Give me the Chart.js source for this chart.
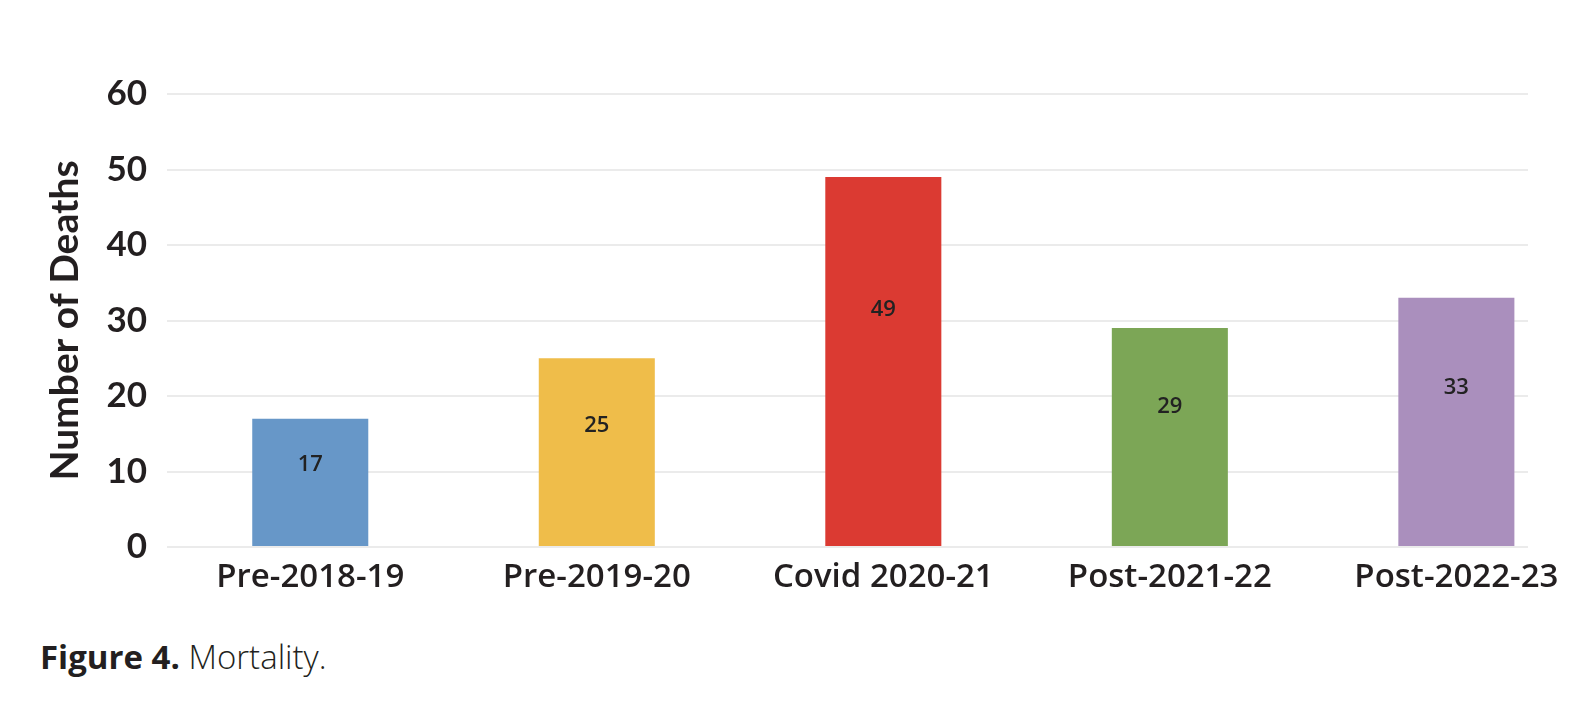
<!DOCTYPE html>
<html lang="en">
<head>
<meta charset="UTF-8">
<title>Figure 4. Mortality</title>
<script src="https://cdn.jsdelivr.net/npm/chart.js"></script>
<style>
  html, body { margin: 0; padding: 0; background: #fff; }
  body { width: 1572px; height: 720px; position: relative; overflow: hidden; }
  #wrap { position: absolute; left: 0; top: 0; width: 1572px; height: 600px; }
  .caption {
    position: absolute; left: 40px; top: 634px;
    font-family: 'Open Sans', sans-serif; font-size: 33px; color: #231f20;
  }
  .caption b { font-weight: 700; }
  .caption span { font-weight: 300; }
</style>
</head>
<body>
<div id="wrap"><canvas id="chart"></canvas></div>
<div class="caption"><b>Figure 4.</b> <span>Mortality.</span></div>

<script>
const categories = ['Pre-2018-19', 'Pre-2019-20', 'Covid 2020-21', 'Post-2021-22', 'Post-2022-23'];
const deaths = [17, 25, 49, 29, 33];
const barColors = ['#6797c8', '#efbd4a', '#db3a32', '#7ca656', '#aa8fbd'];
const yTicks = [0, 10, 20, 30, 40, 50, 60];

// value labels sit about two thirds of the way up each bar
const labelPlugin = {
  id: 'valueLabels',
  afterDatasetsDraw(chart) {
    const { ctx, scales: { x, y } } = chart;
    ctx.save();
    ctx.font = '600 22px "Open Sans", sans-serif';
    ctx.fillStyle = '#222';
    ctx.textAlign = 'center';
    ctx.textBaseline = 'middle';
    deaths.forEach((v, i) => {
      ctx.fillText(String(v), x.getPixelForValue(i), y.getPixelForValue(v * 0.64));
    });
    ctx.restore();
  }
};

new Chart(document.getElementById('chart'), {
  type: 'bar',
  data: {
    datasets: [{
      label: 'Number of Deaths',
      data: deaths.map((v, i) => ({ x: i, y: v })),
      backgroundColor: barColors,
      borderWidth: 0,
      barPercentage: 0.405,
      categoryPercentage: 1
    }]
  },
  options: {
    responsive: true,
    maintainAspectRatio: false,
    animation: false,
    layout: { padding: { top: 94, right: 44, left: 0, bottom: 0 } },
    plugins: { legend: { display: false }, tooltip: { enabled: false } },
    scales: {
      x: {
        type: 'linear',
        min: -0.5,
        max: 4.25,
        offset: false,
        bounds: 'data',
        grid: { display: false },
        border: { display: false },
        afterBuildTicks: s => { s.ticks = categories.map((_, i) => ({ value: i })); },
        afterFit: s => { s.height = 53; },
        ticks: {
          autoSkip: false,
          maxRotation: 0,
          padding: 3,
          color: '#231f20',
          font: { family: 'Open Sans', weight: '600', size: 33 },
          callback: v => categories[v] ?? ''
        }
      },
      y: {
        min: 0,
        max: 60,
        afterBuildTicks: s => { s.ticks = yTicks.map(v => ({ value: v })); },
        afterFit: s => { s.width = 167; },
        grid: { color: '#ebebeb', lineWidth: 2, drawTicks: false },
        border: { display: false },
        ticks: {
          padding: 20,
          color: '#231f20',
          font: { family: 'Lato', weight: '700', size: 35 }
        },
        title: {
          display: true,
          text: 'Number of Deaths',
          color: '#231f20',
          padding: { top: 42, bottom: 0 },
          font: { family: 'Lato', weight: '700', size: 39, lineHeight: 1.2 }
        }
      }
    }
  },
  plugins: [labelPlugin]
});
</script>
</body>
</html>
